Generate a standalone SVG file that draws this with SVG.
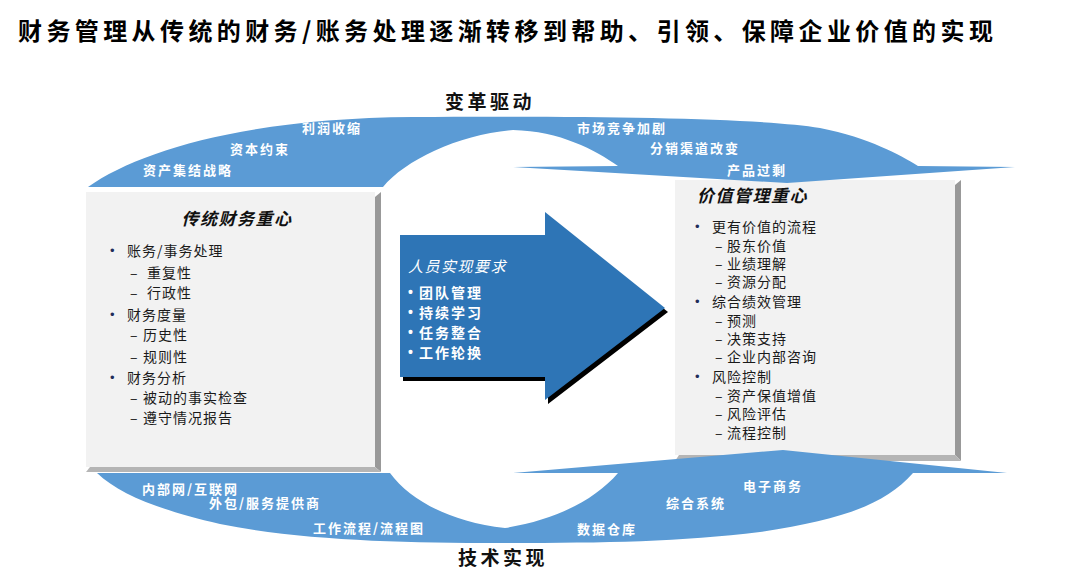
<svg xmlns="http://www.w3.org/2000/svg" width="1080" height="578" viewBox="0 0 1080 578">
<style>
text{font-family:"Noto Sans CJK SC","Noto Sans",sans-serif;}
.title{font-size:24px;font-weight:bold;fill:#000;letter-spacing:4.4px;}
.head{font-size:19px;font-weight:bold;fill:#111;letter-spacing:3.5px;text-anchor:middle;}
.band{fill:#5b9bd5;}
.lbl{font-size:13px;font-weight:bold;fill:#fff;letter-spacing:2px;}
.face{fill:#f2f2f2;}
.rs{fill:#999;}
.bs{fill:#b5b5b5;}
.bt{font-size:17px;font-weight:bold;font-style:italic;fill:#111;letter-spacing:1.5px;}
.it{font-size:14px;fill:#1a1a1a;letter-spacing:1px;}
.bul{font-family:"Liberation Sans",sans-serif;font-size:13px;fill:#1f2d5a;}
.arw{fill:#2e75b6;}
.at{font-size:15px;font-style:italic;fill:#fff;letter-spacing:1.5px;}
.ai{font-size:14px;font-weight:bold;fill:#fff;letter-spacing:2px;}
.ab{font-family:"Liberation Sans",sans-serif;font-size:14px;font-weight:bold;fill:#fff;}
</style>
<rect width="1080" height="578" fill="#fff"/>
<text class="title" x="18" y="40">财务管理从传统的财务/账务处理逐渐转移到帮助、引领、保障企业价值的实现</text>

<g id="left-box">
<rect class="face" x="86" y="192" width="289" height="275"/>
<polygon class="rs" points="375,197 381,192 381,472 375,467"/>
<polygon class="bs" points="90,467 375,467 381,472 86,472"/>
<text class="bt" x="237" y="225" text-anchor="middle">传统财务重心</text>
<text class="bul" x="110" y="255">•</text><text class="it" x="127" y="256">账务/事务处理</text>
<text class="it" y="278"><tspan x="130">–</tspan><tspan x="147">重复性</tspan></text>
<text class="it" y="298"><tspan x="130">–</tspan><tspan x="147">行政性</tspan></text>
<text class="bul" x="110" y="319">•</text><text class="it" x="127" y="320">财务度量</text>
<text class="it" y="340"><tspan x="130">–</tspan><tspan x="143">历史性</tspan></text>
<text class="it" y="362"><tspan x="130">–</tspan><tspan x="143">规则性</tspan></text>
<text class="bul" x="110" y="382">•</text><text class="it" x="127" y="383">财务分析</text>
<text class="it" y="403"><tspan x="130">–</tspan><tspan x="143">被动的事实检查</tspan></text>
<text class="it" y="423"><tspan x="130">–</tspan><tspan x="143">遵守情况报告</tspan></text>
</g>

<g id="right-box">
<rect class="face" x="675" y="180" width="280" height="275"/>
<polygon class="rs" points="955,185 961,180 961,461 955,455"/>
<polygon class="bs" points="679,455 955,455 961,461 675,461"/>
<text class="bt" x="697" y="202">价值管理重心</text>
<text class="bul" x="695" y="231">•</text><text class="it" x="712" y="232">更有价值的流程</text>
<text class="it" y="251"><tspan x="715">–</tspan><tspan x="727">股东价值</tspan></text>
<text class="it" y="269"><tspan x="715">–</tspan><tspan x="727">业绩理解</tspan></text>
<text class="it" y="287"><tspan x="715">–</tspan><tspan x="727">资源分配</tspan></text>
<text class="bul" x="695" y="306">•</text><text class="it" x="712" y="307">综合绩效管理</text>
<text class="it" y="326"><tspan x="715">–</tspan><tspan x="727">预测</tspan></text>
<text class="it" y="344"><tspan x="715">–</tspan><tspan x="727">决策支持</tspan></text>
<text class="it" y="362"><tspan x="715">–</tspan><tspan x="727">企业内部咨询</tspan></text>
<text class="bul" x="695" y="381">•</text><text class="it" x="712" y="382">风险控制</text>
<text class="it" y="401"><tspan x="715">–</tspan><tspan x="727">资产保值增值</tspan></text>
<text class="it" y="419"><tspan x="715">–</tspan><tspan x="727">风险评估</tspan></text>
<text class="it" y="438"><tspan x="715">–</tspan><tspan x="727">流程控制</tspan></text>
</g>

<g id="center-arrow">
<polygon fill="#000" points="403,239 548,239 548,216 668,312 548,404 548,381 403,381"/>
<polygon class="arw" points="400,235 545,235 545,212 665,308 545,400 545,377 400,377"/>
<text class="at" x="408" y="272">人员实现要求</text>
<text class="ab" x="408" y="297">•</text><text class="ai" x="419" y="298">团队管理</text>
<text class="ab" x="408" y="317">•</text><text class="ai" x="419" y="318">持续学习</text>
<text class="ab" x="408" y="337">•</text><text class="ai" x="419" y="338">任务整合</text>
<text class="ab" x="408" y="357">•</text><text class="ai" x="419" y="358">工作轮换</text>
</g>

<g id="connectors">
<g id="top-arc">
<path class="band" d="M88,187 C140,150 250,118 413,117 C600,116 760,118 820,128 C870,138 900,155 918,166 L1015,167 L787,183 L513,167 L618,166 C595,150 560,131 513,130 C460,134 405,160 383,187 Z"/>
<text class="head" x="490" y="109">变革驱动</text>
<text class="lbl" x="302" y="133">利润收缩</text>
<text class="lbl" x="230" y="154">资本约束</text>
<text class="lbl" x="143" y="175">资产集结战略</text>
<text class="lbl" x="577" y="133">市场竞争加剧</text>
<text class="lbl" x="650" y="153">分销渠道改变</text>
<text class="lbl" x="727" y="175">产品过剩</text>
</g>
<g id="bottom-arc">
<path class="band" d="M97,473 L390,473 C410,500 450,522 505,528 C555,520 595,500 618,473 L513,473 L783,450 L1007,473 L913,473 C885,505 840,520 760,532 C680,542 600,543 500,543 C400,543 300,540 220,524 C160,510 120,495 97,473 Z"/>
<text class="head" x="503" y="565">技术实现</text>
<text class="lbl" x="142" y="494">内部网/互联网</text>
<text class="lbl" x="209" y="508">外包/服务提供商</text>
<text class="lbl" x="313" y="533">工作流程/流程图</text>
<text class="lbl" x="743" y="491">电子商务</text>
<text class="lbl" x="666" y="508">综合系统</text>
<text class="lbl" x="577" y="534">数据仓库</text>
</g>
</g>
</svg>
